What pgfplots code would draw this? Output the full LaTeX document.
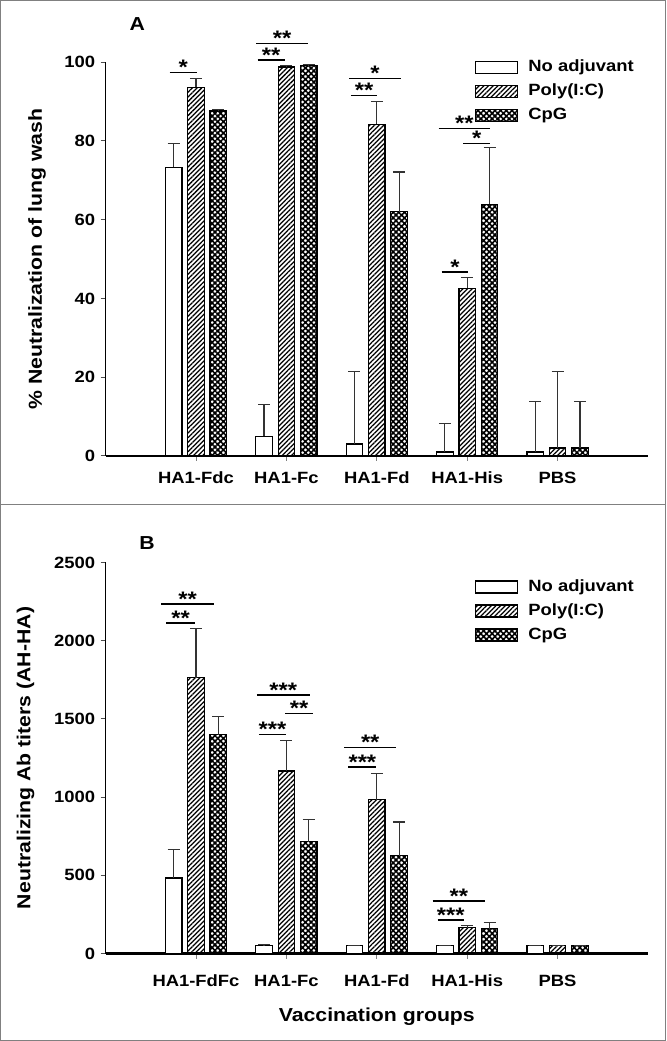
\documentclass[border=0pt]{standalone}
\usepackage{fontspec}
\setmainfont{Liberation Sans}[FakeStretch=1.13]
\usepackage{pgfplots}
\pgfplotsset{compat=1.18}
\usetikzlibrary{patterns.meta}

\newcommand\tickfont{\fontsize{16.3bp}{19bp}\selectfont\bfseries}
\newcommand\labfont{\fontsize{18.8bp}{22bp}\selectfont\bfseries}
\newcommand\starfont{\fontsize{21bp}{24bp}\selectfont\bfseries}

\tikzset{
 sig/.style={line width=1.4bp, black},
 star/.style={anchor=base, yshift=-2.2bp, font=\starfont, inner sep=0pt},
}

\pgfplotsset{
 panel/.style={
  scale only axis, width=542.4bp,
  xmin=0, xmax=6, ymin=0,
  axis x line*=bottom, axis y line*=left,
  axis line style={line width=1.6bp,-},
  x axis line style={line width=2bp},
  tick align=outside,
  major tick length=5bp,
  xtick={1,2,3,4,5},
  x tick style={gray, line width=0.8bp},
  y tick style={black!70, line width=1bp},
  tick label style={font=\tickfont},
  /pgf/number format/assume math mode=true,
  /pgf/number format/1000 sep={},
  scaled y ticks=false,
  yticklabel style={xshift=-2bp},
  every axis y label/.style={at={([xshift=-68.6bp]axis description cs:0,0.5)}, rotate=90, anchor=center, font=\labfont},
  clip=false,
  ybar, bar width=16.5bp,
  legend style={draw=none, fill=none, font=\tickfont, anchor=north west,
     inner sep=0pt, nodes={inner sep=0pt, text height=12bp, text depth=4bp},
     row sep=8bp, column sep=10bp},
  legend cell align=left,
 },
 barbase/.style={draw=black, line width=1.2bp, bar shift=0pt,
   error bars/.cd, y dir=plus, y explicit,
   error bar style={line width=1.2bp, black!80},
   error mark options={rotate=90, mark size=6bp, line width=1.2bp, black!80},
   /pgfplots/.cd,
   legend image code/.code={\draw[##1, line width=1.2bp] (0bp,-6bp) rectangle (42bp,6bp);}},
 no/.style={barbase, fill=white},
 poly/.style={barbase, pattern={Lines[angle=45,distance=3.3bp,line width=1.25bp]}},
 cpg/.style={barbase, pattern={Hatch[angle=45,distance=4bp,line width=1.6bp]}},
}

\begin{document}
\begin{tikzpicture}
\useasboundingbox (0,0) rectangle (667bp,1041bp);
\draw[gray, line width=1bp] (0.5bp,0.5bp) rectangle (665bp,1040.5bp);
\draw[gray, line width=1bp] (0.5bp,536.5bp) -- (665bp,536.5bp);
\node[font=\labfont] at (137.4bp,1017bp) {A};
\node[font=\labfont] at (147bp,497.7bp) {B};

% Panel A
\begin{axis}[panel, at={(105.6bp,585.1bp)}, anchor=origin,
  height=393.7bp, ymax=100, ytick={0,20,40,60,80,100},
  xticklabels={HA1-Fdc,HA1-Fc,HA1-Fd,HA1-His,PBS},
  xticklabel style={yshift=-7.5bp},
  ylabel={\% Neutralization of lung wash},
  legend style={at={(0.681,1.007)}}]
\addplot[no] table[y error=e] {
x y e
0.753 73.3 6.0
1.753 5.0 8.1
2.753 3.0 18.5
3.753 1.0 7.3
4.753 1.0 12.8
};
\addplot[poly] table[y error=e] {
x y e
1 93.6 2.3
2 98.8 0.3
3 84.2 5.9
4 42.6 2.8
5 2.0 19.5
};
\addplot[cpg] table[y error=e] {
x y e
1.247 87.6 0.4
2.247 99.2 0.2
3.247 62.0 10.1
4.247 63.9 14.5
5.247 2.0 11.8
};
\legend{No adjuvant, Poly(I:C), CpG}
\draw[sig] (axis cs:0.708,97.4) -- node[star]{*} (axis cs:1.010,97.4);
\draw[sig] (axis cs:1.664,104.7) -- node[star]{**} (axis cs:2.242,104.7);
\draw[sig] (axis cs:1.683,100.6) -- node[star]{**} (axis cs:1.979,100.6);
\draw[sig] (axis cs:2.694,95.9) -- node[star]{*} (axis cs:3.268,95.9);
\draw[sig] (axis cs:2.713,91.5) -- node[star]{**} (axis cs:3.005,91.5);
\draw[sig] (axis cs:3.683,83.1) -- node[star]{**} (axis cs:4.256,83.1);
\draw[sig] (axis cs:3.955,79.4) -- node[star]{*} (axis cs:4.256,79.4);
\draw[sig] (axis cs:3.716,46.7) -- node[star]{*} (axis cs:4.012,46.7);
\end{axis}

% Panel B
\begin{axis}[panel, at={(105.6bp,87.5bp)}, anchor=origin,
  height=391.1bp, ymax=2500, ytick={0,500,1000,1500,2000,2500},
  xticklabels={HA1-FdFc,HA1-Fc,HA1-Fd,HA1-His,PBS},
  xticklabel style={yshift=-13bp},
  every axis y label/.style={at={([xshift=-80bp]axis description cs:0,0.5)}, rotate=90, anchor=center, font=\labfont},
  ylabel={Neutralizing Ab titers (AH-HA)},
  every axis x label/.style={at={([yshift=-67.5bp]axis description cs:0.5,0)}, anchor=base, font=\labfont},
  xlabel={Vaccination groups},
  legend style={at={(0.681,0.958)}}]
\addplot[no] table[y error=e] {
x y e
0.753 482 182
1.753 49 11
2.753 49 0
3.753 49 0
4.753 49 0
};
\addplot[poly] table[y error=e] {
x y e
1 1763 312
2 1166 197
3 982 168
4 164 13
5 49 0
};
\addplot[cpg] table[y error=e] {
x y e
1.247 1398 117
2.247 715 141
3.247 626 215
4.247 159 40
5.247 49 0
};
\legend{No adjuvant, Poly(I:C), CpG}
\draw[sig] (axis cs:0.614,2234) -- node[star]{**} (axis cs:1.202,2234);
\draw[sig] (axis cs:0.671,2113) -- node[star]{**} (axis cs:0.991,2113);
\draw[sig] (axis cs:1.673,1653) -- node[star]{***} (axis cs:2.257,1653);
\draw[sig] (axis cs:1.989,1533) -- node[star]{**} (axis cs:2.294,1533);
\draw[sig] (axis cs:1.696,1400) -- node[star]{***} (axis cs:1.998,1400);
\draw[sig] (axis cs:2.638,1316) -- node[star]{**} (axis cs:3.217,1316);
\draw[sig] (axis cs:2.685,1192) -- node[star]{***} (axis cs:2.996,1192);
\draw[sig] (axis cs:3.617,336) -- node[star]{**} (axis cs:4.200,336);
\draw[sig] (axis cs:3.673,215) -- node[star]{***} (axis cs:3.965,215);
\end{axis}
\end{tikzpicture}
\end{document}
